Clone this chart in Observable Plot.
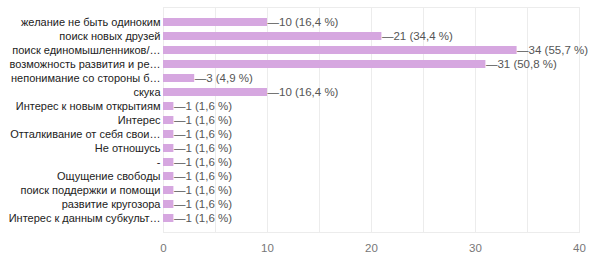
<!DOCTYPE html>
<html><head><meta charset="utf-8">
<script src="https://cdn.jsdelivr.net/npm/d3@7"></script>
<script src="https://cdn.jsdelivr.net/npm/@observablehq/plot@0.6"></script>
<style>body{margin:0;background:#fff}svg{display:block}</style>
</head><body><div id="chart"></div>
<script>
const categories = [
  "желание не быть одиноким",
  "поиск новых друзей",
  "поиск единомышленников/…",
  "возможность развития и ре…",
  "непонимание со стороны б…",
  "скука",
  "Интерес к новым открытиям",
  "Интерес",
  "Отталкивание от себя свои…",
  "Не отношусь",
  "-",
  "Ощущение свободы",
  "поиск поддержки и помощи",
  "развитие кругозора",
  "Интерес к данным субкульт…"
];
const counts = [10, 21, 34, 31, 3, 10, 1, 1, 1, 1, 1, 1, 1, 1, 1];
const percents = ["16,4", "34,4", "55,7", "50,8", "4,9", "16,4", "1,6", "1,6", "1,6", "1,6", "1,6", "1,6", "1,6", "1,6", "1,6"];
const xTicks = [0, 10, 20, 30, 40];

const data = categories.map((c, i) => ({cat: c, n: counts[i], label: `—${counts[i]} (${percents[i]} %)`}));

const chart = Plot.plot({
  width: 590, height: 253,
  marginLeft: 163, marginRight: 11, marginTop: 7, marginBottom: 21,
  style: {fontFamily: "'Liberation Sans', Arial, sans-serif", fontSize: "11px", background: "#fff"},
  x: {domain: [0, 40], ticks: xTicks, label: null},
  y: {domain: categories, padding: 0.46, label: null},
  marks: [
    Plot.ruleX(d3.range(5, 41, 5), {stroke: "#ececec"}),
    Plot.frame({stroke: "#ececec"}),
    Plot.barX(data, {x: "n", y: "cat", fill: "#d6a7e0"}),
    Plot.ruleX([0], {stroke: "#333", strokeWidth: 1.3, y1: null}),
    Plot.text(data, {x: "n", y: "cat", text: "label", textAnchor: "start", dx: 0, fill: "#555", fontSize: 11.5}),
    Plot.axisX({ticks: xTicks, tickSize: 0, tickPadding: 11, fill: "#777", fontSize: 11.5}),
    Plot.axisY({tickSize: 0, tickPadding: 3, fill: "#222", fontSize: 11})
  ]
});
document.getElementById("chart").append(chart);
</script>
</body></html>
